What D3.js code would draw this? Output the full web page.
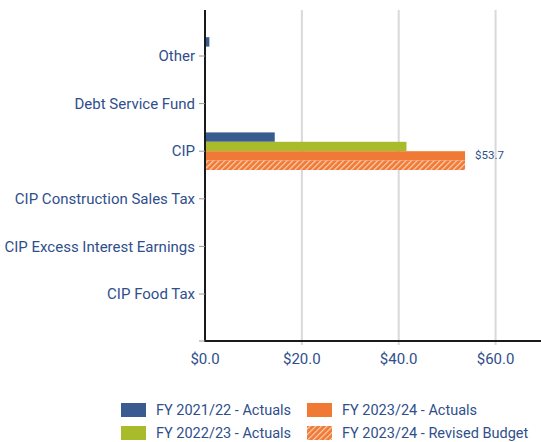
<!DOCTYPE html>
<html><head><meta charset="utf-8">
<script src="https://cdn.jsdelivr.net/npm/d3@7"></script>
<style>body{margin:0;background:#fff}svg{display:block}text{font-family:Roboto,sans-serif}</style>
</head><body><div id="c"></div>
<script>
const categories = ["Other","Debt Service Fund","CIP","CIP Construction Sales Tax","CIP Excess Interest Earnings","CIP Food Tax"];
const seriesNames = ["FY 2021/22 - Actuals","FY 2022/23 - Actuals","FY 2023/24 - Actuals","FY 2023/24 - Revised Budget"];
const fy2122 = [0.9, 0, 14.4, 0, 0, 0];
const fy2223 = [0, 0, 41.6, 0, 0, 0];
const fy2324 = [0, 0, 53.7, 0, 0, 0];
const fy2324Budget = [0, 0, 53.7, 0, 0, 0];
const xTicks = [0, 20, 40, 60];
const seriesValues = [fy2122, fy2223, fy2324, fy2324Budget];
const colors = ["#3a5b8f", "#a8bb2b", "#f07a35", "url(#hatch)"];
const textColor = "#2f4f8c";

const W = 541, H = 442;
const svg = d3.select("#c").append("svg").attr("width", W).attr("height", H);
const defs = svg.append("defs");
const pat = defs.append("pattern").attr("id","hatch").attr("patternUnits","userSpaceOnUse")
  .attr("width",4).attr("height",4).attr("patternTransform","rotate(45)");
pat.append("rect").attr("width",4).attr("height",4).attr("fill","#f07a35");
pat.append("rect").attr("x",0).attr("width",1.2).attr("height",4).attr("fill","#fbd0b5");

const x = d3.scaleLinear().domain([0, 70]).range([205, 544]);
const y = d3.scalePoint().domain(categories).range([56, 294]);
const barH = 9.4;
const plotTop = 10, plotBottom = 341;

// gridlines
svg.append("g").selectAll("line").data(xTicks.slice(1)).join("line")
  .attr("x1", d=>x(d)).attr("x2", d=>x(d)).attr("y1", plotTop).attr("y2", plotBottom+4)
  .attr("stroke", "#d9d9d9").attr("stroke-width", 2);

// bars
seriesValues.forEach((vals, si) => {
  svg.append("g").selectAll("rect").data(vals.map((v,i)=>({v, c:categories[i]})).filter(d=>d.v>0)).join("rect")
    .attr("x", x(0)).attr("width", d=>x(d.v)-x(0))
    .attr("y", d=>y(d.c) - 2*barH + si*barH).attr("height", barH)
    .attr("fill", colors[si]);
});

// value label
svg.append("text").attr("x", x(fy2324[2]) + 10).attr("y", y("CIP") + 4).attr("dy","0.35em")
  .attr("fill", textColor).attr("font-size", 11.5).text("$" + fy2324[2].toFixed(1));

// axes
svg.append("line").attr("x1", x(0)).attr("x2", x(0)).attr("y1", plotTop).attr("y2", plotBottom+1)
  .attr("stroke", "#1a1a1a").attr("stroke-width", 2);
svg.append("line").attr("x1", x(0)-1).attr("x2", W).attr("y1", plotBottom).attr("y2", plotBottom)
  .attr("stroke", "#1a1a1a").attr("stroke-width", 2);

// y ticks and labels
const yg = svg.append("g");
yg.selectAll("line").data(categories).join("line")
  .attr("x1", x(0)-6).attr("x2", x(0)).attr("y1", d=>y(d)).attr("y2", d=>y(d))
  .attr("stroke", "#999");
yg.selectAll("text").data(categories).join("text")
  .attr("x", x(0)-10).attr("y", d=>y(d)).attr("dy","0.35em").attr("text-anchor","end")
  .attr("fill", textColor).attr("font-size", 15).text(d=>d);

// x ticks
const xg = svg.append("g");
xg.append("line").attr("x1", x(0)-6).attr("x2", x(0)).attr("y1", plotBottom).attr("y2", plotBottom).attr("stroke","#999");
xg.selectAll("text").data(xTicks).join("text")
  .attr("x", d=>x(d)).attr("y", 364).attr("text-anchor","middle")
  .attr("fill", textColor).attr("font-size", 15).text(d=>"$" + d.toFixed(1));

// legend
const legPos = [[121,403],[121,426],[307,403],[307,426]];
const lg = svg.append("g");
seriesNames.forEach((n,i)=>{
  const [lx,ly] = legPos[i];
  lg.append("rect").attr("x",lx).attr("y",ly).attr("width",25).attr("height",14).attr("fill",colors[i]);
  lg.append("text").attr("x",lx+35).attr("y",ly+7).attr("dy","0.35em")
    .attr("fill",textColor).attr("font-size",14.5).text(n);
});
</script></body></html>
